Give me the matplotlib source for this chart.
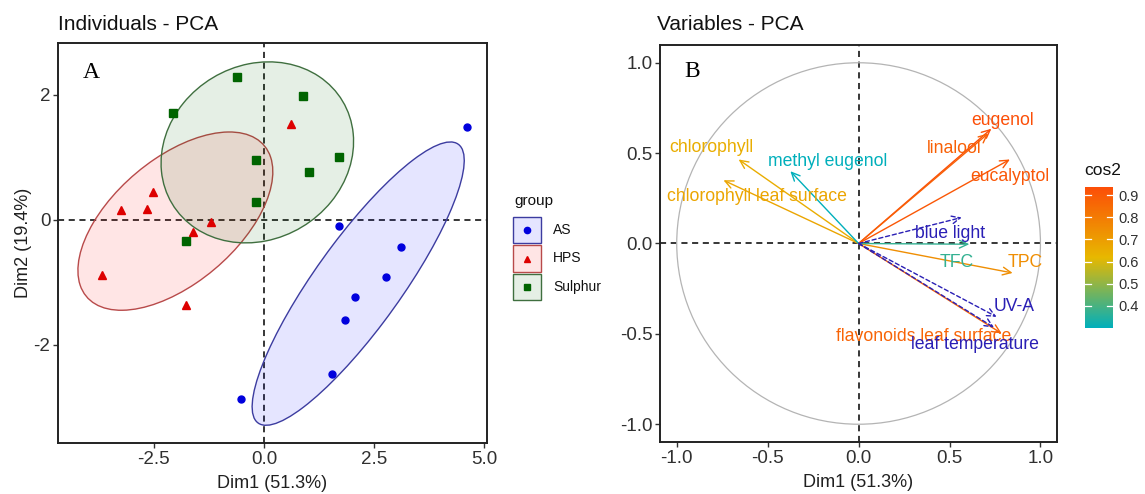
import numpy as np
import matplotlib
matplotlib.use("Agg")
import matplotlib.pyplot as plt
from matplotlib.patches import Ellipse, Circle, Rectangle
from matplotlib.lines import Line2D
from matplotlib.colors import LinearSegmentedColormap, Normalize, to_rgba
from matplotlib.colorbar import ColorbarBase

plt.rcParams['font.family'] = ['Liberation Sans', 'DejaVu Sans']
plt.rcParams['axes.unicode_minus'] = False

# individuals on the first two dimensions
groups = ['AS', 'HPS', 'Sulphur']
as_dim1 = [4.61, 1.70, 3.11, 2.77, 2.07, 1.84, 1.55, -0.51]
as_dim2 = [1.48, -0.10, -0.44, -0.92, -1.24, -1.60, -2.47, -2.87]
hps_dim1 = [0.61, -2.52, -3.25, -2.65, -1.21, -1.61, -3.69, -1.78]
hps_dim2 = [1.54, 0.44, 0.16, 0.18, -0.04, -0.20, -0.88, -1.36]
sul_dim1 = [-0.62, 0.89, -2.06, -0.18, 1.71, 1.02, -0.18, -1.78]
sul_dim2 = [2.29, 1.98, 1.71, 0.96, 1.00, 0.76, 0.28, -0.34]

# active variables (coordinates on Dim1 / Dim2)
active_names = ['eugenol', 'linalool', 'eucalyptol', 'TPC', 'TFC',
                'flavonoids leaf surface', 'chlorophyll',
                'chlorophyll leaf surface', 'methyl eugenol']
active_dim1 = [0.730, 0.713, 0.832, 0.847, 0.609, 0.787, -0.660, -0.743, -0.375]
active_dim2 = [0.635, 0.609, 0.465, -0.163, -0.004, -0.498, 0.465, 0.350, 0.400]

# supplementary variables
sup_names = ['blue light', 'UV-A', 'leaf temperature']
sup_dim1 = [0.567, 0.759, 0.745]
sup_dim2 = [0.144, -0.406, -0.465]

cbar_ticks = [0.4, 0.5, 0.6, 0.7, 0.8, 0.9]

# label offsets from arrow tips (layout only)
active_offsets = [(0.061, 0.048), (-0.186, -0.083), (0.0, -0.092), (0.071, 0.056),
                  (-0.072, -0.103), (-0.429, -0.015), (-0.149, 0.064),
                  (0.182, -0.088), (0.205, 0.052)]
sup_offsets = [(-0.064, -0.091), (0.098, 0.059), (-0.105, -0.093)]

W, H = 1145, 494
fig = plt.figure(figsize=(W / 100, H / 100), dpi=100)

tick_col = '#303030'


def style_axes(ax):
    for s in ax.spines.values():
        s.set_linewidth(1.4)
        s.set_color('#222222')
    ax.tick_params(direction='out', length=3.5, width=1.0, color='#333333',
                   labelsize=13.5, labelcolor=tick_col, pad=2)
    ax.axhline(0, color='black', ls=(0, (4, 3)), lw=1.1, zorder=1)
    ax.axvline(0, color='black', ls=(0, (4, 3)), lw=1.1, zorder=1)


def ellipse_radius(n, level=0.68):
    d2 = n - 1
    return np.sqrt(d2 * ((1 - level) ** (-2.0 / d2) - 1))


def fx(px):
    return px / W


def fy(py):
    return 1 - py / H


# ---------------- Individuals ----------------
ax1 = fig.add_axes([fx(58), fy(443), 429 / W, 400 / H])
style_axes(ax1)

group_x = [as_dim1, hps_dim1, sul_dim1]
group_y = [as_dim2, hps_dim2, sul_dim2]
point_cols = ['#0000DD', '#DD0000', '#006400']
edge_cols = ['#3c3ca0', '#b84a4a', '#3f6f3f']
fill_cols = ['#0000FF', '#FF0000', '#006400']
markers = ['o', '^', 's']

for gx, gy, pc, ec, fc, mk in zip(group_x, group_y, point_cols, edge_cols, fill_cols, markers):
    pts = np.column_stack([gx, gy])
    centre = pts.mean(axis=0)
    cov = np.cov(pts, rowvar=False)
    vals, vecs = np.linalg.eigh(cov)
    r = ellipse_radius(len(gx))
    angle = np.degrees(np.arctan2(vecs[1, 1], vecs[0, 1]))
    ell = Ellipse(centre, 2 * r * np.sqrt(vals[1]), 2 * r * np.sqrt(vals[0]), angle=angle,
                  facecolor=to_rgba(fc, 0.1), edgecolor=ec, lw=1.0, zorder=2)
    ax1.add_patch(ell)
    ax1.plot(gx, gy, ls='none', marker=mk, color=pc, markersize=5 if mk == 'o' else 5.5, zorder=3)

ax1.set_xlim(-4.68, 5.07)
ax1.set_ylim(-3.57, 2.83)
ax1.set_xticks([-2.5, 0.0, 2.5, 5.0])
ax1.set_yticks([-2, 0, 2])
ax1.set_xlabel('Dim1 (51.3%)', fontsize=13, color='#202020', labelpad=5)
ax1.set_ylabel('Dim2 (19.4%)', fontsize=13, color='#202020', labelpad=1)
ax1.text(0.0786, 0.926, 'A', transform=ax1.transAxes, ha='center', va='center',
         fontsize=17, family='Liberation Serif')

# legend drawn as keys in figure space
fig.text(fx(514), fy(201), 'group', fontsize=11, ha='left', va='center', color='#111111')
key_tops = [217, 245.5, 274]
for top, label, pc, ec, fc, mk in zip(key_tops, groups, point_cols, edge_cols, fill_cols, markers):
    fig.add_artist(Rectangle((fx(513), fy(top + 26)), 28 / W, 26 / H, transform=fig.transFigure,
                             facecolor=to_rgba(fc, 0.1), edgecolor=ec, lw=1.0))
    fig.add_artist(Line2D([fx(527)], [fy(top + 13)], transform=fig.transFigure, ls='none',
                          marker=mk, color=pc, markersize=4.5))
    fig.text(fx(553), fy(top + 13), label, fontsize=10, ha='left', va='center', color='#111111')

fig.text(fx(58), fy(24), 'Individuals - PCA', fontsize=15, va='center', ha='left', color='#111111')

# ---------------- Variables ----------------
ax2 = fig.add_axes([fx(660), fy(442.3), 397 / W, 397.6 / H])
style_axes(ax2)
ax2.add_patch(Circle((0, 0), 1.0, fill=False, edgecolor='#b4b4b4', lw=0.9, zorder=1))

cos2 = np.array(active_dim1) ** 2 + np.array(active_dim2) ** 2
cmap = LinearSegmentedColormap.from_list('cos2', ['#00AFBB', '#E7B800', '#FC4E07'])
norm = Normalize(vmin=cos2.min(), vmax=cos2.max())

arrow_style = '->,head_length=0.6,head_width=0.28'
for name, x, y, c, off in zip(active_names, active_dim1, active_dim2, cos2, active_offsets):
    col = cmap(norm(c))
    ax2.annotate('', xy=(x, y), xytext=(0, 0),
                 arrowprops=dict(arrowstyle=arrow_style, color=col, lw=1.0,
                                 shrinkA=0, shrinkB=0), zorder=3)
    ax2.text(x + off[0], y + off[1], name, color=col, fontsize=12.7, ha='center', va='center', zorder=4)

sup_col = '#2a1fb5'
for name, x, y, off in zip(sup_names, sup_dim1, sup_dim2, sup_offsets):
    ax2.annotate('', xy=(x, y), xytext=(0, 0),
                 arrowprops=dict(arrowstyle=arrow_style, color=sup_col, lw=1.0, ls=(0, (3, 2)),
                                 shrinkA=0, shrinkB=0), zorder=3)
    ax2.text(x + off[0], y + off[1], name, color=sup_col, fontsize=12.7, ha='center', va='center', zorder=4)

ax2.set_xlim(-1.092, 1.091)
ax2.set_ylim(-1.10, 1.10)
ax2.set_xticks([-1.0, -0.5, 0.0, 0.5, 1.0])
ax2.set_yticks([-1.0, -0.5, 0.0, 0.5, 1.0])
ax2.set_xlabel('Dim1 (51.3%)', fontsize=13, color='#202020', labelpad=5)
ax2.text(0.081, 0.932, 'B', transform=ax2.transAxes, ha='center', va='center',
         fontsize=17, family='Liberation Serif')

fig.text(fx(657), fy(24), 'Variables - PCA', fontsize=15, va='center', ha='left', color='#111111')

# colour bar
cax = fig.add_axes([fx(1085), fy(328), 28 / W, 141 / H])
cb = ColorbarBase(cax, cmap=cmap, norm=norm, orientation='vertical')
cb.outline.set_visible(False)
cb.set_ticks(cbar_ticks)
cax.tick_params(length=0, labelsize=10.5, labelcolor=tick_col, pad=4)
for t in cbar_ticks:
    cax.plot([0, 0.2], [t, t], color='white', lw=0.9, transform=cax.get_yaxis_transform())
    cax.plot([0.8, 1.0], [t, t], color='white', lw=0.9, transform=cax.get_yaxis_transform())
fig.text(fx(1084), fy(170), 'cos2', fontsize=12.5, va='center', ha='left', color='#111111')

fig.savefig('out.png', dpi=100)
